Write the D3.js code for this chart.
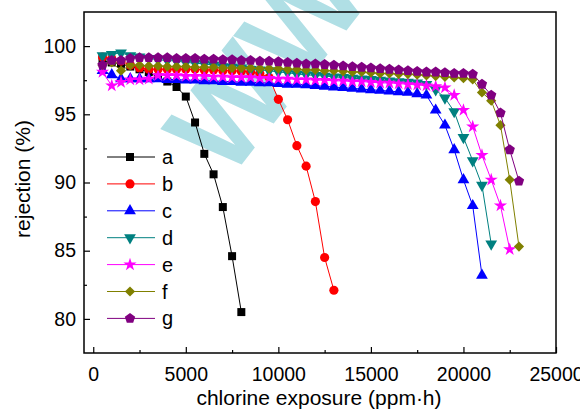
<!DOCTYPE html>
<head>
  <meta charset="utf-8">
  <script src="https://d3js.org/d3.v7.min.js"></script>
  <style>
    body { margin:0; background:#fff; }
    svg { display:block; }
  </style>
</head>
<body>
<script>
  // chlorine exposure (ppm·h) sampled every 500
  const exposure = [500, 1000, 1500, 2000, 2500, 3000, 3500, 4000, 4500, 5000,
    5500, 6000, 6500, 7000, 7500, 8000, 8500, 9000, 9500, 10000,
    10500, 11000, 11500, 12000, 12500, 13000, 13500, 14000, 14500, 15000,
    15500, 16000, 16500, 17000, 17500, 18000, 18500, 19000, 19500, 20000,
    20500, 21000, 21500, 22000, 22500, 23000];

  const seriesNames = ['a', 'b', 'c', 'd', 'e', 'f', 'g'];
  const seriesColors = ['#000000', '#ff0000', '#0000ff', '#008080', '#ff00ff', '#808000', '#800080'];

  const rejA = [98.9, 98.8, 98.7, 98.5, 98.3, 98.1, 97.7, 97.4, 97.0, 96.3,
    94.4, 92.1, 90.6, 88.2, 84.6, 80.5];
  const rejB = [99.2, 99.1, 98.9, 98.6, 98.4, 98.3, 98.3, 98.3, 98.3, 98.3,
    98.3, 98.25, 98.25, 98.2, 98.2, 98.15, 98.1, 98.0, 97.7, 96.1,
    94.6, 92.7, 91.2, 88.6, 84.5, 82.1];
  const rejC = [98.2, 97.9, 97.6, 97.6, 97.6, 97.6, 97.6, 97.55, 97.55, 97.5,
    97.5, 97.45, 97.45, 97.4, 97.4, 97.35, 97.35, 97.3, 97.3, 97.25,
    97.2, 97.2, 97.15, 97.1, 97.05, 97.0, 96.95, 96.9, 96.85, 96.8,
    96.75, 96.7, 96.65, 96.6, 96.5, 96.4, 95.3, 94.2, 92.4, 90.2,
    88.3, 83.2];
  const rejD = [99.3, 99.4, 99.5, 99.3, 99.2, 99.1, 99.0, 98.95, 98.9, 98.8,
    98.75, 98.7, 98.6, 98.5, 98.45, 98.4, 98.3, 98.25, 98.2, 98.1,
    98.05, 97.95, 97.9, 97.85, 97.8, 97.75, 97.7, 97.65, 97.6, 97.55,
    97.5, 97.45, 97.4, 97.35, 97.3, 97.2, 96.8, 96.2, 95.2, 93.3,
    91.6, 89.8, 85.5];
  const rejE = [98.1, 97.1, 97.35, 97.55, 97.55, 97.6, 97.85, 97.85, 97.85, 97.8,
    97.8, 97.8, 97.75, 97.75, 97.7, 97.7, 97.7, 97.65, 97.65, 97.6,
    97.6, 97.55, 97.55, 97.5, 97.5, 97.45, 97.45, 97.4, 97.4, 97.35,
    97.3, 97.3, 97.25, 97.2, 97.15, 97.1, 97.05, 96.95, 96.4, 95.3,
    94.1, 92.0, 90.2, 88.3, 85.1];
  const rejF = [98.6, 98.8, 98.2, 98.6, 98.6, 98.55, 98.55, 98.5, 98.5, 98.5,
    98.45, 98.45, 98.45, 98.4, 98.4, 98.4, 98.4, 98.35, 98.35, 98.35,
    98.3, 98.3, 98.25, 98.25, 98.2, 98.2, 98.15, 98.1, 98.1, 98.05,
    98.0, 98.0, 97.95, 97.95, 97.9, 97.85, 97.8, 97.75, 97.7, 97.65,
    97.55, 96.6, 96.0, 94.2, 90.2, 85.3];
  const rejG = [98.6, 98.95, 98.95, 99.1, 99.15, 99.15, 99.15, 99.15, 99.1, 99.1,
    99.1, 99.05, 99.05, 99.0, 99.0, 98.95, 98.95, 98.9, 98.9, 98.85,
    98.8, 98.75, 98.7, 98.7, 98.65, 98.6, 98.55, 98.5, 98.45, 98.4,
    98.35, 98.3, 98.25, 98.2, 98.15, 98.1, 98.1, 98.05, 98.0, 98.0,
    97.95, 97.2, 96.4, 95.1, 92.4, 90.1];

  const xMajor = [0, 5000, 10000, 15000, 20000, 25000];
  const xMinor = [2500, 7500, 12500, 17500, 22500];
  const yMajor = [80, 85, 90, 95, 100];
  const yMinor = [82.5, 87.5, 92.5, 97.5];

  const allRej = [rejA, rejB, rejC, rejD, rejE, rejF, rejG];

  const width = 580, height = 412;
  const font = "'Liberation Sans', Arial, sans-serif";
  const tickSize = '19.5px';
  const titleSize = '21px';

  const x = d3.scaleLinear().domain([-500, 25000]).range([84, 556]);
  const y = d3.scaleLinear().domain([77.5, 102.5]).range([353, 12]);

  const svg = d3.select('body').append('svg')
      .attr('width', width)
      .attr('height', height)
      .style('background', '#fff');

  // faint watermark behind everything
  svg.append('text')
      .text('WW')
      .attr('transform', 'translate(228,182) rotate(-52)')
      .style('font-family', font)
      .style('font-weight', 'bold')
      .style('font-size', '125px')
      .style('fill', '#b0dfe5');

  // pentagon marker, not in d3
  const symbolPentagon = {
    draw(ctx, size) {
      const r = Math.sqrt(size / (2.5 * Math.sin(2 * Math.PI / 5)));
      for (let i = 0; i < 5; i++) {
        const a = -Math.PI / 2 + i * 2 * Math.PI / 5;
        if (i === 0) ctx.moveTo(r * Math.cos(a), r * Math.sin(a));
        else ctx.lineTo(r * Math.cos(a), r * Math.sin(a));
      }
      ctx.closePath();
    }
  };

  const markers = [
    { type: d3.symbolSquare, size: 64, rot: 0 },
    { type: d3.symbolCircle, size: 66, rot: 0 },
    { type: d3.symbolTriangle, size: 60, rot: 0 },
    { type: d3.symbolTriangle, size: 60, rot: 180 },
    { type: d3.symbolStar, size: 54, rot: 0 },
    { type: d3.symbolSquare, size: 52, rot: 45 },
    { type: symbolPentagon, size: 70, rot: 0 }
  ];

  const line = d3.line().x(d => x(d[0])).y(d => y(d[1]));

  const plot = svg.append('g');
  allRej.forEach((vals, i) => {
    const pts = vals.map((v, j) => [exposure[j], v]);
    const g = plot.append('g');
    g.append('path')
      .attr('d', line(pts))
      .style('fill', 'none')
      .style('stroke', seriesColors[i])
      .style('stroke-width', 1);
    g.selectAll('path.mk')
      .data(pts)
      .enter()
      .append('path')
      .attr('class', 'mk')
      .attr('d', d3.symbol().type(markers[i].type).size(markers[i].size))
      .attr('transform', d => `translate(${x(d[0])},${y(d[1])}) rotate(${markers[i].rot})`)
      .style('fill', seriesColors[i]);
  });

  // axes with inward ticks
  const styleAxis = g => {
    g.select('.domain').remove();
    g.selectAll('line').style('stroke', '#000').style('stroke-width', 1.2);
    g.selectAll('text').style('font-family', font).style('font-size', tickSize).style('fill', '#000');
  };

  svg.append('g')
      .attr('transform', 'translate(0,353)')
      .call(d3.axisBottom(x).tickValues(xMajor).tickSize(-6).tickPadding(14).tickFormat(d3.format('d')))
      .call(styleAxis);
  svg.append('g')
      .attr('transform', 'translate(0,353)')
      .call(d3.axisBottom(x).tickValues(xMinor).tickSize(-3).tickFormat(''))
      .call(styleAxis);
  svg.append('g')
      .attr('transform', 'translate(84,0)')
      .call(d3.axisLeft(y).tickValues(yMajor).tickSize(-6).tickPadding(8))
      .call(styleAxis);
  svg.append('g')
      .attr('transform', 'translate(84,0)')
      .call(d3.axisLeft(y).tickValues(yMinor).tickSize(-3).tickFormat(''))
      .call(styleAxis);

  svg.append('rect')
      .attr('x', 84).attr('y', 12)
      .attr('width', 472).attr('height', 341)
      .style('fill', 'none')
      .style('stroke', '#000')
      .style('stroke-width', 1.5);

  // axis titles
  svg.append('text')
      .text('chlorine exposure (ppm·h)')
      .attr('x', 319).attr('y', 405)
      .attr('text-anchor', 'middle')
      .style('font-family', font).style('font-size', titleSize);
  svg.append('text')
      .text('rejection (%)')
      .attr('transform', 'translate(30,179) rotate(-90)')
      .attr('text-anchor', 'middle')
      .style('font-family', font).style('font-size', titleSize);

  // legend
  const legend = svg.append('g').attr('transform', 'translate(0,157)');
  seriesNames.forEach((name, i) => {
    const row = legend.append('g').attr('transform', `translate(0,${i * 26.9})`);
    row.append('line')
      .attr('x1', 107).attr('x2', 155)
      .style('stroke', seriesColors[i])
      .style('stroke-width', 1);
    row.append('path')
      .attr('d', d3.symbol().type(markers[i].type).size(markers[i].size))
      .attr('transform', `translate(130,0) rotate(${markers[i].rot})`)
      .style('fill', seriesColors[i]);
    row.append('text')
      .text(name)
      .attr('x', 162).attr('dy', '0.35em')
      .style('font-family', font).style('font-size', '20px');
  });
</script>
</body>
